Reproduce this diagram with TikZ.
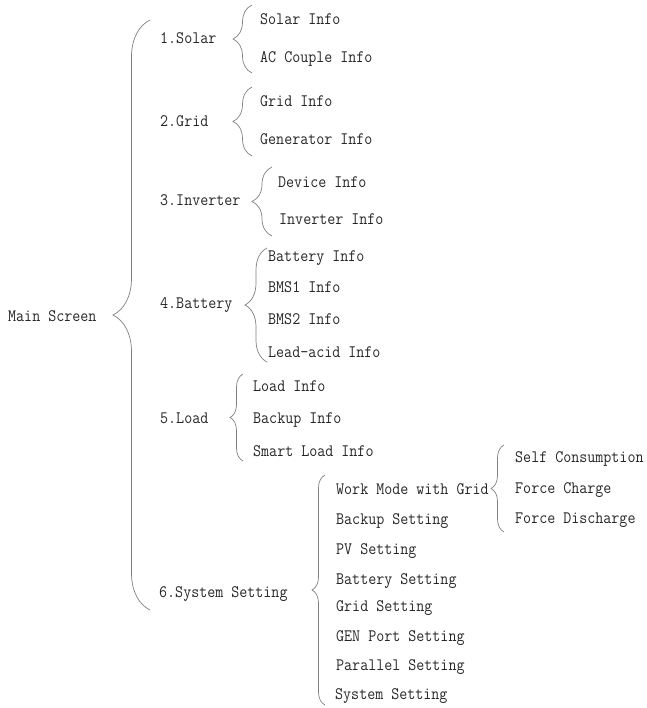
\documentclass[tikz,border=0pt]{standalone}
\usepackage{fontspec}
\newfontfamily\menufont[FakeStretch=0.89]{Latin Modern Mono}
\usepackage{tikz}
\usetikzlibrary{positioning, decorations.pathreplacing}

\begin{document}
\begin{tikzpicture}[
    x=1pt, y=-1pt,
    lbl/.style={anchor=west, inner sep=0pt, text height=10.7pt, text depth=0pt,
                font=\menufont\fontsize{17.5}{19}\selectfont, text=black!85},
    brc/.style={decorate, decoration={brace, amplitude=#1pt}, draw=black!50, line width=0.7pt},
    brc/.default=19,
]
\useasboundingbox (0,0) rectangle (646,708);

% Root
\node[lbl] (main) at (8,316) {Main Screen};

% Level 1
\node[lbl] (solar) at (160,38) {1.Solar};
\node[lbl] (grid) at (160,121) {2.Grid};
\node[lbl] (inverter) at (160,200) {3.Inverter};
\node[lbl] (battery) at (160,303) {4.Battery};
\node[lbl] (load) at (160,418) {5.Load};
\node[lbl] (syst) at (159,592) {6.System Setting};

\draw[brc=37] ([xshift=-9pt,yshift=-18pt]syst.west) -- ([xshift=-10pt,yshift=18pt]solar.west);

% Solar
\node[lbl] (solarinfo) at (260,19) {Solar Info};
\node[lbl] (acinfo) at (260,57) {AC Couple Info};
\draw[brc] ([xshift=-8pt,yshift=-16pt]acinfo.west) -- ([xshift=-8pt,yshift=14pt]solarinfo.west);

% Grid
\node[lbl] (gridinfo) at (260,101) {Grid Info};
\node[lbl] (geninfo) at (260,139) {Generator Info};
\draw[brc] ([xshift=-8pt,yshift=-17pt]geninfo.west) -- ([xshift=-8pt,yshift=14pt]gridinfo.west);

% Inverter
\node[lbl] (devinfo) at (278,182) {Device Info};
\node[lbl] (invinfo) at (279,219) {Inverter Info};
\draw[brc=20] ([xshift=-7pt,yshift=-17pt]invinfo.west) -- ([xshift=-6pt,yshift=15pt]devinfo.west);

% Battery
\node[lbl] (batinfo) at (268,256) {Battery Info};
\node[lbl] (bms1) at (268,287) {BMS1 Info};
\node[lbl] (bms2) at (268,319) {BMS2 Info};
\node[lbl] (leadinfo) at (268,352) {Lead-acid Info};
\draw[brc=22] ([xshift=-1pt,yshift=-10pt]leadinfo.west) -- ([xshift=-1pt,yshift=8pt]batinfo.west);

% Load
\node[lbl] (loadinfo) at (253,386) {Load Info};
\node[lbl] (backinfo) at (253,418) {Backup Info};
\node[lbl] (smartinfo) at (253,451) {Smart Load Info};
\draw[brc=13] ([xshift=-10pt,yshift=-10pt]smartinfo.west) -- ([xshift=-10pt,yshift=12pt]loadinfo.west);

% System setting
\node[lbl] (workmode) at (336,489) {Work Mode with Grid};
\node[lbl] (backset) at (336,519) {Backup Setting};
\node[lbl] (pvset) at (336,549) {PV Setting};
\node[lbl] (batset) at (336,579) {Battery Setting};
\node[lbl] (gridset) at (336,606) {Grid Setting};
\node[lbl] (genset) at (336,636) {GEN Port Setting};
\node[lbl] (parset) at (336,665) {Parallel Setting};
\node[lbl] (sysset) at (335,694) {System Setting};
\draw[brc=13] ([xshift=-10pt,yshift=-11pt]sysset.west) -- ([xshift=-11pt,yshift=14pt]workmode.west);

% Work modes
\node[lbl] (selfc) at (515,457) {Self Consumption};
\node[lbl] (fchg) at (515,488) {Force Charge};
\node[lbl] (fdis) at (515,518) {Force Discharge};
\draw[brc=13] ([xshift=-11pt,yshift=-14pt]fdis.west) -- ([xshift=-11pt,yshift=12pt]selfc.west);

\end{tikzpicture}
\end{document}
